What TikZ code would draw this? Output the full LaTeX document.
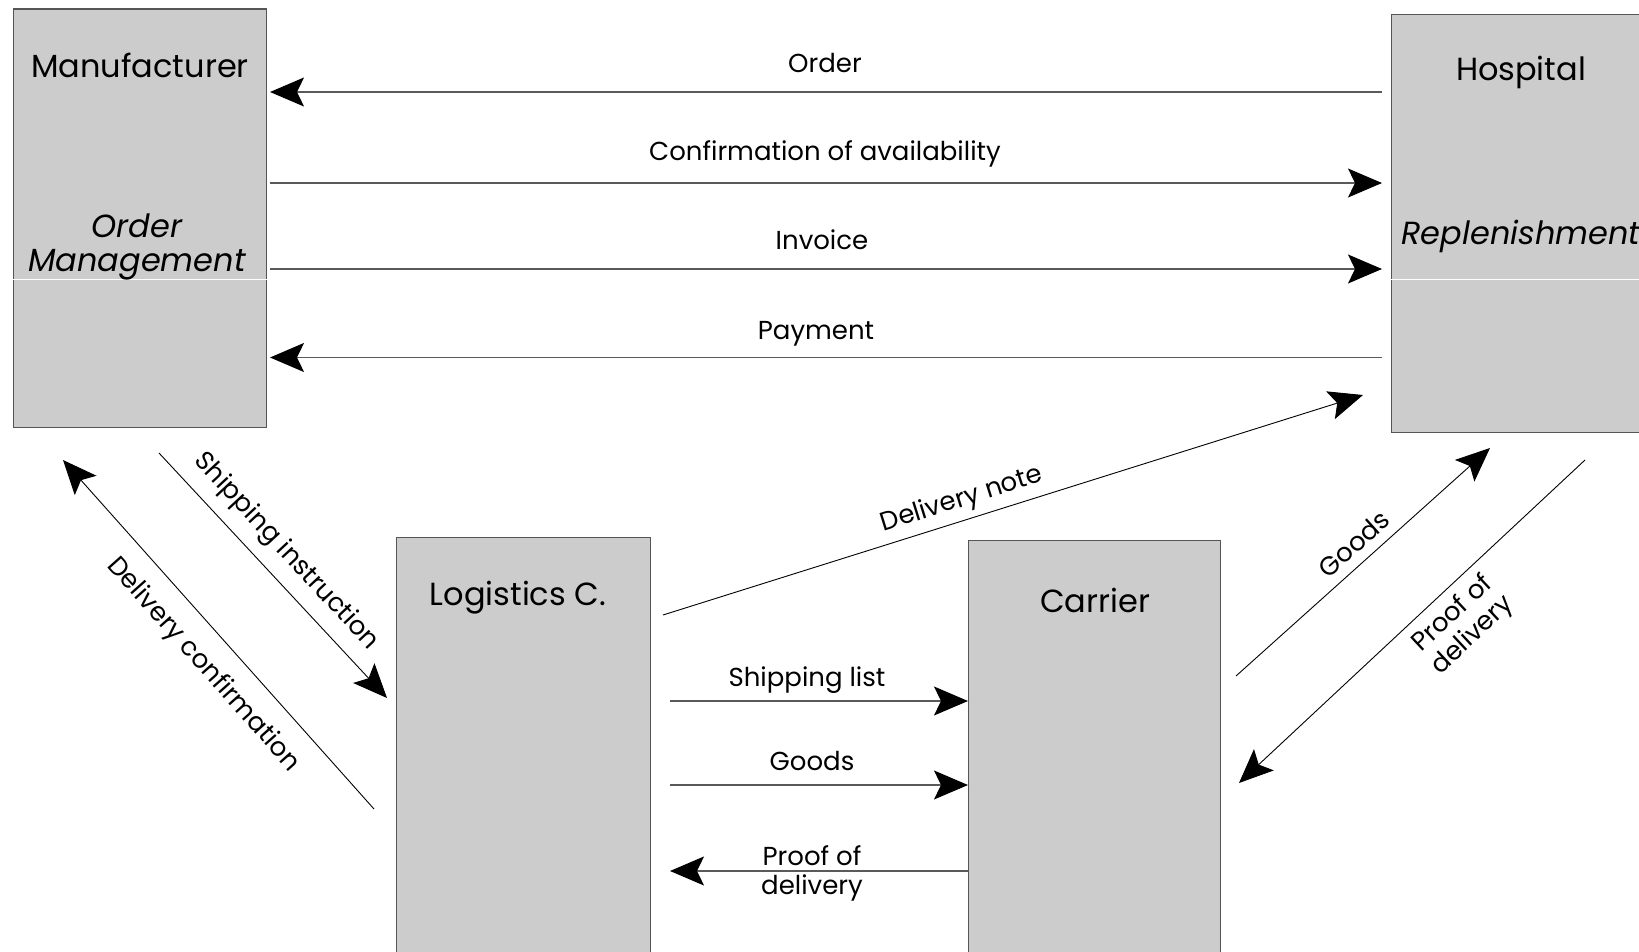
\documentclass[tikz,border=0pt]{standalone}
\usepackage{fontspec}
\setmainfont{Poppins}
\usetikzlibrary{arrows.meta}
\definecolor{boxgray}{HTML}{CCCCCC}
\definecolor{edgegray}{HTML}{555555}
\definecolor{linegray}{HTML}{5A5A5A}
\tikzset{
  party/.style={draw=edgegray, line width=1.4pt, fill=boxgray, anchor=north west, inner sep=0pt},
  divider/.style={draw=white, line width=1pt},
  title/.style={font=\fontsize{32}{36}\selectfont, inner sep=0pt},
  role/.style={font=\fontsize{32}{34}\selectfont\itshape, align=center, inner sep=0pt},
  msg/.style={font=\fontsize{26}{29}\selectfont, inner sep=0pt, align=center},
  tip/.style={-{Stealth[length=34pt,width=29pt,inset=7pt,color=black]}},
  hflow/.style={draw=linegray, line width=1.3pt, tip},
  dflow/.style={draw=black, line width=0.9pt, tip}
}
\begin{document}
\begin{tikzpicture}[x=1pt,y=-1pt]
\useasboundingbox (0,0) rectangle (1639,952);
\fill[white] (0,0) rectangle (1639,952);

% boxes
\node[party, minimum width=253pt, minimum height=418pt] (man) at (12.5,8.5) {};
\node[party, minimum width=280pt, minimum height=418pt] (hos) at (1391,13.6) {};
\node[party, minimum width=254pt, minimum height=440pt] (log) at (396,537) {};
\node[party, minimum width=252pt, minimum height=440pt] (car) at (968,540) {};
\draw[divider] (man.west |- 0,279) -- (man.east |- 0,279);
\draw[divider] (hos.west |- 0,279) -- (1639,279);

% box texts
\node[title] (manT) at (140,65) {Manufacturer};
\node[role] (manR) at (137,247) {Order\\Management};
\node[title] (hosT) at (1521,72) {Hospital};
\node[role] (hosR) at (1521,236) {Replenishment};
\node[title] (logT) at (518,598) {Logistics C.};
\node[title] (carT) at (1095,600) {Carrier};

% endpoints
\coordinate (oA) at (1382,92);   \coordinate (oB) at (270,92);
\coordinate (cA) at (270,183);   \coordinate (cB) at (1382,183);
\coordinate (iA) at (270,269);   \coordinate (iB) at (1382,269);
\coordinate (pA) at (1382,357.5); \coordinate (pB) at (270,357.5);
\coordinate (dnA) at (663,615);  \coordinate (dnB) at (1363,395);
\coordinate (siA) at (159,453);  \coordinate (siB) at (387,698);
\coordinate (dcA) at (374,809);  \coordinate (dcB) at (63,460);
\coordinate (slA) at (670,701);  \coordinate (slB) at (968,701);
\coordinate (gA) at (670,785);   \coordinate (gB) at (968,785);
\coordinate (pdA) at (968,871);  \coordinate (pdB) at (670,871);
\coordinate (dgA) at (1236,676); \coordinate (dgB) at (1490,448);
\coordinate (dpA) at (1585,460); \coordinate (dpB) at (1239,783);

% connectors
\draw[hflow] (oA) -- (oB);
\draw[hflow] (cA) -- (cB);
\draw[hflow] (iA) -- (iB);
\draw[hflow] (pA) -- (pB);
\draw[dflow] (dnA) -- (dnB);
\draw[dflow] (siA) -- (siB);
\draw[dflow] (dcA) -- (dcB);
\draw[hflow] (slA) -- (slB);
\draw[hflow] (gA) -- (gB);
\draw[hflow] (pdA) -- (pdB);
\draw[dflow] (dgA) -- (dgB);
\draw[dflow] (dpA) -- (dpB);

% labels
\node[msg] (lo) at (825,63) {Order};
\node[msg] (lc) at (825,154) {Confirmation of availability};
\node[msg] (li) at (822,240) {Invoice};
\node[msg] (lp) at (816,334) {Payment};
\node[msg, rotate=17.4] (ldn) at (962,500) {Delivery note};
\node[msg, rotate=-47.1] (lsi) at (286,552) {Shipping instruction};
\node[msg, rotate=-48.3] (ldc) at (203,665) {Delivery confirmation};
\node[msg] (lsl) at (807,680) {Shipping list};
\node[msg] (lg) at (812,761) {Goods};
\node[msg] (lpd) at (812,873) {Proof of\\delivery};
\node[msg, rotate=41.9] (ldg) at (1354,544) {Goods};
\node[msg, rotate=43] (ldp) at (1463,625) {Proof of\\delivery};
\end{tikzpicture}
\end{document}
